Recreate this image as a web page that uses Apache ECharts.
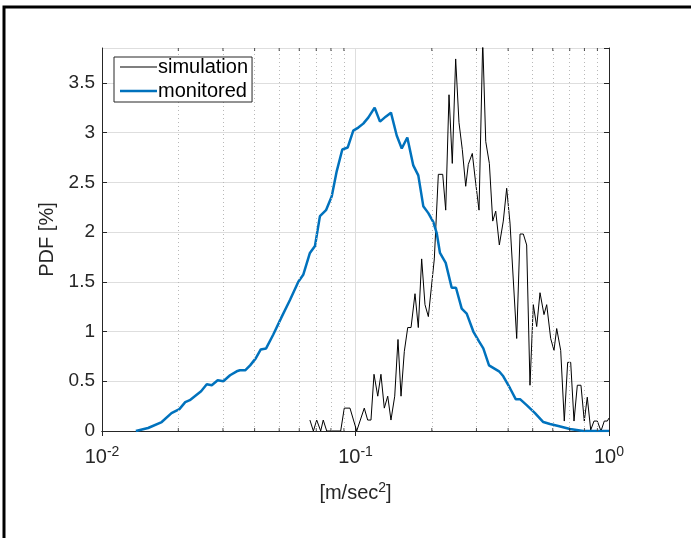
<!DOCTYPE html>
<html>
<head>
<meta charset="utf-8">
<script src="https://cdn.jsdelivr.net/npm/echarts@6/dist/echarts.min.js"></script>
<style>
html,body{margin:0;padding:0;background:#fff;}
#chart{width:691px;height:538px;}
</style>
</head>
<body>
<div id="chart"></div>
<script>
const seriesNames = ['simulation', 'monitored'];

const simulationX = [0.0661,0.0682,0.0703,0.0729,0.0746,0.0770,0.0806,0.0874,0.0903,0.0951,0.1011,0.1083,0.1117,0.1151,0.1183,0.1224,0.1260,0.1299,0.1340,0.1380,0.1428,0.1471,0.1512,0.1558,0.1607,0.1656,0.1717,0.1769,0.1824,0.1880,0.1938,0.2046,0.2122,0.2208,0.2269,0.2338,0.2409,0.2484,0.2560,0.2638,0.2721,0.2786,0.2889,0.2980,0.3071,0.3176,0.3264,0.3373,0.3478,0.3574,0.3693,0.3828,0.3948,0.4069,0.4324,0.4457,0.4592,0.4734,0.4879,0.5028,0.5185,0.5344,0.5541,0.5678,0.5888,0.6067,0.6218,0.6448,0.6662,0.6871,0.7061,0.7277,0.7499,0.7752,0.7989,0.8209,0.8470,0.8727,0.8993,0.9299,0.9583,0.9847,1.0];
const simulationY = [0.11,0,0.11,0,0.11,0,0,0,0.23,0.23,0,0.23,0.11,0.11,0.57,0.35,0.57,0.23,0.35,0.11,0.35,0.92,0.35,0.80,1.04,1.04,1.38,1.04,1.73,1.27,1.15,1.73,2.58,2.58,2.22,3.38,2.69,3.74,3.10,2.83,2.46,2.68,2.79,2.49,2.22,3.92,2.91,2.69,2.11,2.21,1.87,2.11,2.44,2.09,0.93,1.98,1.98,1.87,0.46,1.27,1.05,1.39,1.17,1.27,0.93,0.81,1.03,0.81,0.10,0.69,0.69,0.10,0.46,0.46,0.10,0.34,0.01,0.10,0.10,0,0.10,0.10,0.13];

const monitoredX = [0.0136,0.0152,0.0172,0.0188,0.0202,0.0213,0.0222,0.0235,0.0246,0.0259,0.0271,0.0286,0.0301,0.0320,0.0340,0.0350,0.0367,0.0384,0.0404,0.0423,0.0444,0.0474,0.0512,0.0552,0.0595,0.0622,0.0661,0.0692,0.0724,0.0765,0.0806,0.0843,0.0887,0.0932,0.0980,0.1026,0.1073,0.1123,0.1190,0.1249,0.1316,0.1380,0.1454,0.1522,0.1601,0.1690,0.1769,0.1851,0.1938,0.2028,0.2091,0.2154,0.2269,0.2396,0.2491,0.2624,0.2746,0.2916,0.3071,0.3193,0.3363,0.3683,0.3828,0.4069,0.4285,0.4457,0.4734,0.5106,0.5506,0.5852,0.6310,0.7017,0.7918,1.0];
const monitoredY = [0,0.03,0.09,0.18,0.22,0.29,0.31,0.36,0.40,0.47,0.46,0.51,0.50,0.56,0.60,0.61,0.61,0.66,0.73,0.82,0.83,0.97,1.15,1.32,1.50,1.57,1.79,1.86,2.16,2.22,2.36,2.61,2.83,2.85,3.02,3.05,3.09,3.15,3.25,3.11,3.16,3.20,2.97,2.84,2.95,2.67,2.57,2.26,2.19,2.10,1.99,1.79,1.69,1.44,1.44,1.23,1.18,1.00,0.90,0.83,0.66,0.60,0.55,0.43,0.32,0.32,0.26,0.18,0.09,0.07,0.05,0.02,0,0];

const xMin = 0.01, xMax = 1;
const yMin = 0, yMax = 3.85, yStep = 0.5;
const xMinorTicks = [0.02,0.03,0.04,0.05,0.06,0.07,0.08,0.09,0.2,0.3,0.4,0.5,0.6,0.7,0.8,0.9];

const FONT = '"Liberation Sans", Arial, Helvetica, sans-serif';
const AX = '#262626';
const BLUE = '#0072BD';

const zip = (xs, ys) => xs.map((x, i) => [x, ys[i]]);

const chart = echarts.init(document.getElementById('chart'), null, {renderer: 'canvas'});

const option = {
  animation: false,
  backgroundColor: '#ffffff',
  textStyle: {fontFamily: FONT},
  graphic: [{
    type: 'rect', silent: true, z: 100,
    shape: {x: 4, y: 7, width: 800, height: 600},
    style: {fill: 'none', stroke: '#000', lineWidth: 3}
  }],
  grid: {left: 102, top: 48, right: 82, bottom: 107, containLabel: false},
  legend: {
    orient: 'vertical', left: 114, top: 57,
    data: [
      {name: seriesNames[0], icon: 'path://M0,0M0,14M0,6.5h37v1h-37z', itemStyle: {color: '#000'}},
      {name: seriesNames[1], icon: 'path://M0,0M0,14M0,5.75h37v2.5h-37z', itemStyle: {color: BLUE}}
    ],
    itemWidth: 37, itemHeight: 14, itemGap: 4,
    padding: [0, 4, 1, 6],
    backgroundColor: '#fff', borderColor: AX, borderWidth: 1,
    textStyle: {fontSize: 20, color: '#000', fontFamily: FONT, padding: [0, 0, 0, -4]},
    z: 50
  },
  xAxis: [{
    type: 'log', logBase: 10, min: xMin, max: xMax,
    name: '[m/sec{s|2}]', nameLocation: 'middle', nameGap: 50,
    nameTextStyle: {
      fontSize: 20, color: AX, fontFamily: FONT, verticalAlign: 'top',
      rich: {s: {fontSize: 14, verticalAlign: 'top', padding: [0,0,10,0], fontFamily: FONT, color: AX}}
    },
    axisLine: {show: true, lineStyle: {color: AX, width: 1}},
    axisTick: {show: true, inside: true, length: 5, lineStyle: {color: AX}},
    axisLabel: {
      margin: 14, color: AX, fontSize: 20, fontFamily: FONT,
      formatter: v => '{b|10}{e|' + Math.round(Math.log10(v)) + '}',
      rich: {
        b: {fontSize: 20, fontFamily: FONT, color: AX},
        e: {fontSize: 14, fontFamily: FONT, color: AX, verticalAlign: 'top', padding: [0,0,10,0]}
      }
    },
    splitLine: {show: true, lineStyle: {color: '#dedede', width: 1}}
  }, {
    type: 'log', logBase: 10, min: xMin, max: xMax, position: 'top',
    axisLine: {show: true, lineStyle: {color: AX, width: 1}},
    axisTick: {show: true, inside: true, length: 5, lineStyle: {color: AX}},
    axisLabel: {show: false}, splitLine: {show: false}
  }],
  yAxis: [{
    type: 'value', min: yMin, max: yMax, interval: yStep,
    name: 'PDF [%]', nameLocation: 'middle', nameGap: 44, nameRotate: 90,
    nameTextStyle: {fontSize: 20, color: AX, fontFamily: FONT},
    axisLine: {show: true, lineStyle: {color: AX, width: 1}},
    axisTick: {show: true, inside: true, length: 5, lineStyle: {color: AX}},
    axisLabel: {margin: 7, color: AX, fontSize: 19, fontFamily: FONT, showMaxLabel: false},
    splitLine: {show: true, lineStyle: {color: '#dedede', width: 1}}
  }, {
    type: 'value', min: yMin, max: yMax, interval: yStep, position: 'right',
    axisLine: {show: true, lineStyle: {color: AX, width: 1}},
    axisTick: {show: true, inside: true, length: 5, lineStyle: {color: AX}},
    axisLabel: {show: false}, splitLine: {show: false}
  }],
  series: [{
    name: 'grid-minor', type: 'line', data: [], silent: true,
    markLine: {
      silent: true, symbol: 'none', label: {show: false}, animation: false,
      lineStyle: {type: [1, 3], color: '#b8b8b8', width: 1},
      data: xMinorTicks.map(v => ({xAxis: v}))
    }
  }, {
    name: 'ticks-bottom', type: 'scatter', silent: true, z: 5,
    data: xMinorTicks.map(v => [v, yMin]),
    symbol: 'rect', symbolSize: [1, 3], symbolOffset: [0, -1.5],
    itemStyle: {color: AX}
  }, {
    name: 'ticks-top', type: 'scatter', silent: true, z: 5,
    data: xMinorTicks.map(v => [v, yMax]),
    symbol: 'rect', symbolSize: [1, 3], symbolOffset: [0, 1.5],
    itemStyle: {color: AX}
  }, {
    name: 'simulation', type: 'line', data: zip(simulationX, simulationY),
    symbol: 'none', clip: true, z: 3,
    lineStyle: {color: '#000', width: 1}, itemStyle: {color: '#000'}
  }, {
    name: 'monitored', type: 'line', data: zip(monitoredX, monitoredY),
    symbol: 'none', clip: true, z: 4,
    lineStyle: {color: BLUE, width: 2.5}, itemStyle: {color: BLUE}
  }]
};
chart.setOption(option);
</script>
</body>
</html>
